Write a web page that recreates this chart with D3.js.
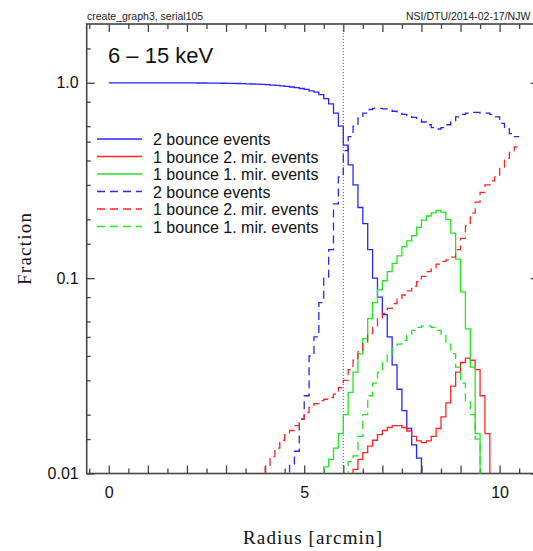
<!DOCTYPE html>
<html><head><meta charset="utf-8">
<script src="https://cdn.jsdelivr.net/npm/d3@7"></script>
<style>body{margin:0;background:#fff}svg{display:block}</style>
</head><body>
<svg id="chart" width="533" height="551"></svg>
<script>
// Histogram bins: width 0.125 arcmin starting at 0 (84 bins, 0 .. 10.5)
const binWidth = 0.125;
// 0 = below the plotted range (< 0.01)
const blueSolid = [
 1.0,1.0,1.0,1.0,1.0,1.0,1.0,1.0,1.0,1.0,1.0,1.0,1.0,1.0,1.0,1.0,
 0.999,0.999,0.998,0.998,0.997,0.997,0.996,0.995,
 0.994,0.993,0.992,0.99,0.988,0.986,0.984,0.981,
 0.978,0.974,0.97,0.965,0.959,0.952,0.944,0.935,
 0.925,0.91,0.895,0.87,0.83,0.78,0.7,0.6,
 0.48,0.38,0.3,0.23,0.19,0.14,0.1,0.08,
 0.065,0.05,0.036,0.027,0.021,0.017,0.014,0.012,
 0,0,0,0,0,0,0,0,0,0,0,0,0,0,0,0,0,0,0,0];
const redSolid = [
 0,0,0,0,0,0,0,0,0,0,0,0,0,0,0,0,0,0,0,0,0,0,0,0,0,0,0,0,0,0,0,0,
 0,0,0,0,0,0,0,0,0,0,0,0,0,0,0,0,0,0,
 0.0105,0.0118,0.0128,0.0138,0.0148,0.0158,0.0166,0.0172,
 0.0176,0.0176,0.0172,0.0165,0.0155,0.0147,0.0144,0.0147,
 0.0155,0.017,0.0195,0.023,0.028,0.033,0.037,0.039,
 0.038,0.034,0.025,0.016,0,0,0,0,0,0];
const greenSolid = [
 0,0,0,0,0,0,0,0,0,0,0,0,0,0,0,0,0,0,0,0,0,0,0,0,0,0,0,0,0,0,0,0,
 0,0,0,0,0,0,0,0,0,0,0,0,
 0.0108,0.0118,0.0135,0.016,0.02,0.026,0.033,0.041,
 0.049,0.062,0.075,0.087,0.097,0.108,0.119,0.13,
 0.145,0.155,0.165,0.182,0.198,0.208,0.216,0.222,
 0.218,0.2,0.17,0.125,0.085,0.055,0.035,0.016,
 0,0,0,0,0,0,0,0];
const blueDashed = [
 0,0,0,0,0,0,0,0,0,0,0,0,0,0,0,0,0,0,0,0,0,0,0,0,0,0,0,0,0,0,0,0,
 0,0,0,0,0,
 0.011,0.013,0.019,0.025,0.04,0.05,0.075,0.1,
 0.14,0.24,0.33,0.45,0.53,0.6,0.66,0.7,
 0.73,0.74,0.74,0.735,0.725,0.715,0.7,0.69,
 0.68,0.665,0.65,0.63,0.61,0.59,0.58,0.59,
 0.61,0.64,0.67,0.69,0.7,0.705,0.705,0.7,
 0.7,0.69,0.67,0.62,0.58,0.55,0.53];
const redDashed = [
 0,0,0,0,0,0,0,0,0,0,0,0,0,0,0,0,0,0,0,0,0,0,0,0,0,0,0,0,0,0,0,0,
 0.011,0.0122,0.0135,0.0148,0.0158,0.0166,0.0176,0.019,
 0.0205,0.0218,0.0228,0.0236,0.024,0.0245,0.0255,0.0275,
 0.03,0.034,0.038,0.042,0.047,0.052,0.057,0.062,
 0.066,0.07,0.074,0.078,0.082,0.086,0.091,0.096,
 0.102,0.108,0.113,0.118,0.122,0.124,0.128,0.14,
 0.16,0.185,0.215,0.245,0.275,0.3,0.315,0.33,
 0.37,0.41,0.44,0.47];
const greenDashed = [
 0,0,0,0,0,0,0,0,0,0,0,0,0,0,0,0,0,0,0,0,0,0,0,0,0,0,0,0,0,0,0,0,
 0,0,0,0,0,0,0,0,0,0,0,0,0,0,0,0,0,
 0.0115,0.0123,0.0155,0.02,0.025,0.029,0.033,0.037,
 0.041,0.044,0.046,0.048,0.051,0.054,0.056,0.057,
 0.057,0.056,0.054,0.051,0.046,0.041,0.035,0.029,
 0.0235,0.02,0.015,0,0,0,0,0,0,0,0];

const seriesLabels = ["2 bounce events","1 bounce 2. mir. events","1 bounce 1. mir. events",
                      "2 bounce events","1 bounce 2. mir. events","1 bounce 1. mir. events"];
const seriesData = [blueSolid, redSolid, greenSolid, blueDashed, redDashed, greenDashed];
const seriesColors = ["#2626ff","#ff2424","#1ee81e","#2626ff","#ff2424","#1ee81e"];
const seriesDashed = [false,false,false,true,true,true];

const yMinorTicks = [0.015,0.02,0.03,0.04,0.05,0.06,0.08,0.15,0.2,0.3,0.4,0.5,0.6,0.8,1.5];
const yMajorTicks = [0.01,0.1,1.0];
const yMajorLabels = ["0.01","0.1","1.0"];
const xMajorTicks = [0,1,2,3,4,5,6,7,8,9,10,11];
const xMinorTicks = [-0.5,0.5,1.5,2.5,3.5,4.5,5.5,6.5,7.5,8.5,9.5,10.5];
const xLabelTicks = [0,5,10];
const markerRadius = 6;

const svg = d3.select("#chart");
const L = 86.7, R = 538.7, T = 24, B = 473.5;
const x = d3.scaleLinear().domain([-0.565, 11]).range([L, R]);
const y = d3.scaleLog().domain([0.01, 2]).range([B, T]);
const sans = "'Liberation Sans', Arial, Helvetica, sans-serif";
const serif = "'Liberation Serif', 'Times New Roman', serif";
const axisColor = "#444";

// header
svg.append("text").attr("x", 87).attr("y", 20).attr("font-family", sans).attr("font-size", 10.5)
  .attr("fill", "#222").text("create_graph3, serial105");
svg.append("text").attr("x", 406).attr("y", 20).attr("font-family", sans).attr("font-size", 10.5)
  .attr("fill", "#222").text("NSI/DTU/2014-02-17/NJW");

// clip
svg.append("clipPath").attr("id", "plotclip").append("rect")
  .attr("x", L).attr("y", T).attr("width", R - L).attr("height", B - T);

// axes
function styleAxis(g) {
  g.select(".domain").remove();
  g.selectAll(".tick line").attr("stroke", axisColor).attr("stroke-width", 1.3);
  g.selectAll(".tick text").attr("font-family", sans).attr("font-size", 16).attr("fill", "#111");
}
svg.append("g").attr("transform", `translate(0,${B})`)
  .call(d3.axisBottom(x).tickValues(xMajorTicks).tickSize(-8).tickPadding(13)
    .tickFormat(d => xLabelTicks.includes(d) ? String(d) : ""))
  .call(styleAxis);
svg.append("g").attr("transform", `translate(0,${B})`)
  .call(d3.axisBottom(x).tickValues(xMinorTicks).tickSize(-5).tickFormat(""))
  .call(styleAxis);
svg.append("g").attr("transform", `translate(0,${T})`)
  .call(d3.axisTop(x).tickValues(xMajorTicks).tickSize(-8).tickFormat(""))
  .call(styleAxis);
svg.append("g").attr("transform", `translate(0,${T})`)
  .call(d3.axisTop(x).tickValues(xMinorTicks).tickSize(-5).tickFormat(""))
  .call(styleAxis);
svg.append("g").attr("transform", `translate(${L},0)`)
  .call(d3.axisLeft(y).tickValues(yMajorTicks).tickSize(-8).tickPadding(8)
    .tickFormat((d, i) => yMajorLabels[yMajorTicks.indexOf(d)]))
  .call(styleAxis);
svg.append("g").attr("transform", `translate(${L},0)`)
  .call(d3.axisLeft(y).tickValues(yMinorTicks).tickSize(-4).tickFormat(""))
  .call(styleAxis);
svg.append("g").attr("transform", `translate(${R},0)`)
  .call(d3.axisRight(y).tickValues(yMajorTicks).tickSize(-8).tickFormat(""))
  .call(styleAxis);
svg.append("g").attr("transform", `translate(${R},0)`)
  .call(d3.axisRight(y).tickValues(yMinorTicks).tickSize(-4).tickFormat(""))
  .call(styleAxis);

// frame
svg.append("rect").attr("x", L).attr("y", T).attr("width", R - L).attr("height", B - T)
  .attr("fill", "none").attr("stroke", axisColor).attr("stroke-width", 1.6);

// dotted vertical line at 6 arcmin
svg.append("line").attr("x1", x(6)).attr("x2", x(6)).attr("y1", T).attr("y2", B)
  .attr("stroke", "#555").attr("stroke-width", 1).attr("stroke-dasharray", "1,2");

// step lines
const floorVal = 0.001;
const line = d3.line()
  .x(d => x(d[0]))
  .y(d => y(Math.max(d[1], floorVal)))
  .curve(d3.curveStepAfter);
const plot = svg.append("g").attr("clip-path", "url(#plotclip)");
seriesData.forEach((vals, k) => {
  const pts = vals.map((v, i) => [i * binWidth, v]);
  pts.push([vals.length * binWidth, vals[vals.length - 1]]);
  plot.append("path").datum(pts).attr("d", line)
    .attr("fill", "none").attr("stroke", seriesColors[k]).attr("stroke-width", 1.3)
    .attr("stroke-dasharray", seriesDashed[k] ? "8,5" : null);
});

// energy band label
svg.append("text").attr("x", 108).attr("y", 63).attr("font-family", sans).attr("font-size", 22)
  .attr("fill", "#111").text("6 \u2013 15 keV");

// legend
const legX1 = 97, legX2 = 142, legTextX = 153, legY0 = 139, legDY = 17.5;
seriesLabels.forEach((lab, k) => {
  const yy = legY0 + k * legDY;
  svg.append("line").attr("x1", legX1).attr("x2", legX2).attr("y1", yy).attr("y2", yy)
    .attr("stroke", seriesColors[k]).attr("stroke-width", 1.3)
    .attr("stroke-dasharray", seriesDashed[k] ? "8,5" : null);
  svg.append("text").attr("x", legTextX).attr("y", yy + 6).attr("font-family", sans)
    .attr("font-size", 16).attr("fill", "#111").text(lab);
});

// axis titles
svg.append("text").attr("x", 312.5).attr("y", 544).attr("text-anchor", "middle")
  .attr("font-family", serif).attr("font-size", 19).attr("fill", "#111")
  .attr("textLength", 139).attr("lengthAdjust", "spacing").text("Radius [arcmin]");
svg.append("text").attr("transform", "translate(31,249) rotate(-90)").attr("text-anchor", "middle")
  .attr("font-family", serif).attr("font-size", 19).attr("fill", "#111")
  .attr("textLength", 72).attr("lengthAdjust", "spacing").text("Fraction");
</script>
</body></html>
